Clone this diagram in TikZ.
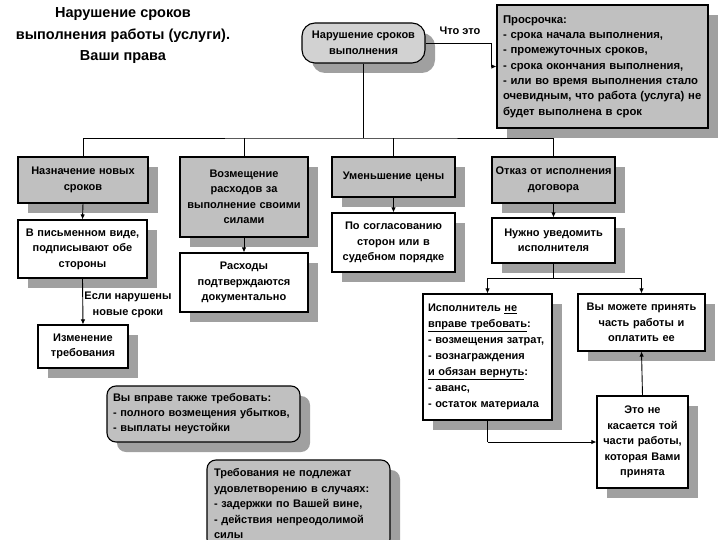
\documentclass[tikz,border=0pt]{standalone}
\usepackage{fontspec}
\setmainfont{Liberation Sans}
\usetikzlibrary{shadows,arrows.meta}
\definecolor{boxgray}{RGB}{192,192,192}
\definecolor{lightgray2}{RGB}{210,210,210}
\definecolor{shadowgray}{RGB}{160,160,160}
\begin{document}
\begin{tikzpicture}[x=1pt,y=-1pt,
  base/.style={draw=black,line width=1.1pt,inner xsep=1pt,inner ysep=3pt,
    font=\fontsize{11}{15.5}\selectfont\bfseries,
    drop shadow={shadow xshift=10pt,shadow yshift=-10pt,fill=shadowgray,opacity=1}},
  graybox/.style={base,fill=boxgray,align=center},
  whitebox/.style={base,fill=white,align=center},
  roundbox/.style={base,fill=boxgray,rounded corners=9pt,align=left},
  line/.style={draw=black,line width=0.9pt},
  arr/.style={line,-{Latex[length=5pt,width=4.5pt]}},
  lbl/.style={font=\fontsize{11}{15.5}\selectfont\bfseries,align=center,inner sep=0pt}
]
\path[use as bounding box,clip] (0,0) rectangle (720,540);

\node[font=\fontsize{14.5}{21.5}\selectfont\bfseries,align=center] (title) at (123,36)
  {Нарушение сроков\\выполнения работы (услуги).\\Ваши права};

\node[base,fill=lightgray2,rounded corners=13pt,align=center,minimum width=123pt,minimum height=40pt] (top) at (363.5,43)
  {Нарушение сроков\\выполнения};

\node[base,fill=boxgray,align=left,text width=199pt,minimum width=211pt,minimum height=123pt,
  font=\fontsize{11.3}{15.3}\selectfont\bfseries] (pros) at (602.5,66.5)
  {Просрочка:\\- срока начала выполнения,\\- промежуточных сроков,\\- срока окончания выполнения,\\- или во время выполнения стало\\очевидным, что работа (услуга) не\\будет выполнена в срок};

\node[lbl] (what) at (460,31) {Что это};
\coordinate (k1) at (491,66.5);
\draw[line] (top.east) -| (k1);
\draw[arr] (k1) -- (pros.west);

% level 2
\node[graybox,text width=127pt,minimum width=130pt,minimum height=46pt] (b1) at (83,180) {Назначение новых\\сроков};
\node[graybox,text width=125pt,minimum width=128pt,minimum height=80pt] (b2) at (244,197) {Возмещение\\расходов за\\выполнение своими\\силами};
\node[graybox,text width=120pt,minimum width=123pt,minimum height=40pt] (b3) at (393.5,177) {Уменьшение цены};
\node[graybox,text width=120pt,minimum width=123pt,minimum height=46pt] (b4) at (553.5,180) {Отказ от исполнения\\договора};

\coordinate (bus) at (363.5,138);
\draw[line] (top.south) -- (bus);
\draw[line] (b1.north) |- (bus) -| (b4.north);
\draw[line] (b2.north) -- (b2.north |- bus);
\draw[line] (b3.north) -- (b3.north |- bus);

% level 3
\node[whitebox,text width=126pt,minimum width=129pt,minimum height=58pt] (c1) at (82.5,249) {В письменном виде,\\подписывают обе\\стороны};
\node[whitebox,text width=125pt,minimum width=128pt,minimum height=59pt] (c2) at (244,282.5) {Расходы\\подтверждаются\\документально};
\node[whitebox,text width=120pt,minimum width=123pt,minimum height=59pt] (c3) at (393.5,242.5) {По согласованию\\сторон или в\\судебном порядке};
\node[whitebox,text width=120pt,minimum width=123pt,minimum height=45pt] (c4) at (553.5,240.5) {Нужно уведомить\\исполнителя};

\draw[arr] (b1.south) -- (c1.north);
\draw[arr] (b2.south) -- (c2.north);
\draw[arr] (b3.south) -- (c3.north);
\draw[arr] (b4.south) -- (c4.north);

\node[whitebox,text width=87pt,minimum width=90pt,minimum height=43pt] (f) at (83,346.5) {Изменение\\требования};
\draw[arr] (c1.south) -- (f.north);
\node[lbl] (ifl) at (128,305) {Если нарушены\\новые сроки};

% level 4
\node[whitebox,align=left,text width=119pt,minimum width=129pt,minimum height=126pt,
  font=\fontsize{11}{16}\selectfont\bfseries] (d1) at (487.5,357)
  {Исполнитель \underline{не}\\\underline{вправе требовать}:\\- возмещения затрат,\\- вознаграждения\\\underline{и обязан вернуть}:\\- аванс,\\- остаток материала};
\node[whitebox,text width=124pt,minimum width=127pt,minimum height=57pt] (d2) at (641.5,322.5) {Вы можете принять\\часть работы и\\оплатить ее};
\coordinate (bus2) at (553.5,278);
\draw[line] (c4.south) -- (bus2);
\draw[arr] (bus2) -| (d1.north);
\draw[arr] (bus2) -| (d2.north);

\node[whitebox,text width=88pt,minimum width=91pt,minimum height=92pt] (e) at (642.5,442) {Это не\\касается той\\части работы,\\которая Вами\\принята};
\draw[arr] (e.north) -- (d2.south);
\coordinate (k2) at (487.5,442);
\draw[line] (d1.south) -- (k2);
\draw[arr] (k2) -- (e.west);

% rounded notes
\node[roundbox,text width=181pt,minimum width=193pt,minimum height=56pt,
  font=\fontsize{11}{15}\selectfont\bfseries] (g) at (203.5,414)
  {Вы вправе также требовать:\\- полного возмещения убытков,\\- выплаты неустойки};
\node[roundbox,text width=169pt,minimum width=183pt,minimum height=88pt,
  font=\fontsize{11}{15.5}\selectfont\bfseries] (h) at (298.5,504)
  {Требования не подлежат\\удовлетворению в случаях:\\- задержки по Вашей вине,\\- действия непреодолимой\\силы};
\end{tikzpicture}
\end{document}
